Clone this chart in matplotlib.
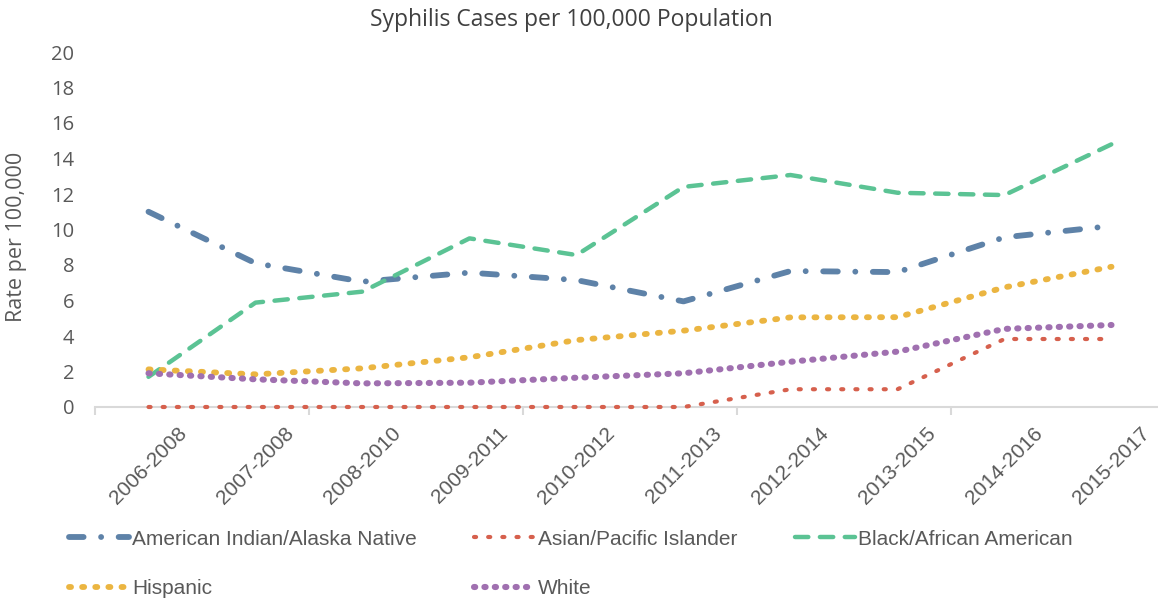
import numpy as np
import matplotlib
matplotlib.use('Agg')
import matplotlib.pyplot as plt
import matplotlib.transforms as mtrans

periods = ['2006-2008', '2007-2008', '2008-2010', '2009-2011', '2010-2012',
           '2011-2013', '2012-2014', '2013-2015', '2014-2016', '2015-2017']
ai_an = [11.0, 8.1, 7.06, 7.57, 7.15, 5.95, 7.66, 7.6, 9.56, 10.2]
asian_pi = [0, 0, 0, 0, 0, 0, 1.0, 1.0, 3.83, 3.83]
black = [1.7, 5.88, 6.5, 9.5, 8.56, 12.4, 13.07, 12.07, 11.94, 14.8]
hispanic = [2.12, 1.84, 2.18, 2.8, 3.77, 4.3, 5.05, 5.06, 6.74, 7.9]
white = [1.9, 1.56, 1.33, 1.37, 1.65, 1.9, 2.55, 3.12, 4.4, 4.62]

x = np.arange(len(periods))
fig = plt.figure(figsize=(11.58, 6.03), dpi=100)
ax = fig.add_axes([95/1158, 1 - 407/603, 1070/1158, 355/603])

grey = '#595959'
kw = dict(dash_capstyle='round', solid_joinstyle='round', clip_on=False, zorder=5)
l1, = ax.plot(x, ai_an, color='#5E82A8', lw=4.2, dashes=(2.5, 3.0, 0.01, 3.0), **kw)
l2, = ax.plot(x, asian_pi, color='#D6604D', lw=3.0, dashes=(0.5, 2.9), **kw)
l3, = ax.plot(x, black, color='#5BC394', lw=3.2, dashes=(3.0, 2.6), **kw)
l4, = ax.plot(x, hispanic, color='#EBB541', lw=4.2, dashes=(0.35, 1.9), **kw)
l5, = ax.plot(x, white, color='#A070B0', lw=4.4, dashes=(0.2, 1.5), **kw)

ax.set_ylim(0, 20)
ax.set_yticks(np.arange(0, 21, 2))
ax.set_xlim(-0.5, 9.5)
ax.set_xticks(x)
ax.set_xticklabels(periods, rotation=45, ha='center', family='Liberation Sans',
                   fontsize=15, color=grey)
shift = mtrans.ScaledTranslation(13/100, 0, fig.dpi_scale_trans)
for lab in ax.get_xticklabels():
    lab.set_transform(lab.get_transform() + shift)
ax.set_xticks(np.arange(-0.5, 10, 2), minor=True)
ax.tick_params(axis='x', which='major', length=0, pad=12)
ax.tick_params(axis='x', which='minor', length=6, width=1.5, color='#D9D9D9')
ax.tick_params(axis='y', length=0, pad=15, labelsize=14.5, labelcolor=grey)
for lab in ax.get_yticklabels():
    lab.set_family('Open Sans')

for s in ['top', 'right', 'left']:
    ax.spines[s].set_visible(False)
ax.spines['bottom'].set_color('#D9D9D9')
ax.spines['bottom'].set_linewidth(1.5)

ax.set_ylabel('Rate per 100,000', family='Open Sans', fontsize=15.5, color=grey)
ax.yaxis.set_label_coords(-68/1070, 0.48)

fig.text(571/1158, 1 - 20/603, 'Syphilis Cases per 100,000 Population',
         family='Open Sans', fontsize=16.5, color='#404040', ha='center', va='center')

handles = [l1, l4, l2, l5, l3]
labels = ['American Indian/Alaska Native', 'Hispanic', 'Asian/Pacific Islander',
          'White', 'Black/African American']
fig.legend(handles, labels, ncol=3, loc='upper left',
           bbox_to_anchor=(50/1158, 1 - 511/603), frameon=False,
           prop={'family': 'Liberation Sans', 'size': 15}, labelcolor=grey,
           handlelength=2.9, handletextpad=0.15, labelspacing=1.45,
           columnspacing=2.75)

fig.savefig('out.png', dpi=100)
